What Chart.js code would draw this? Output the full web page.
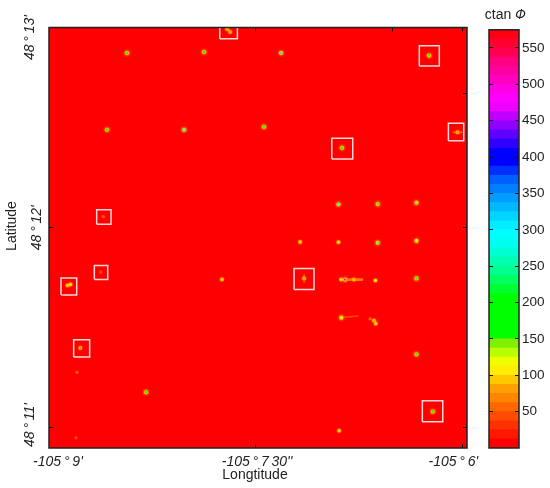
<!DOCTYPE html>
<html><head><meta charset="utf-8">
<script src="https://cdn.jsdelivr.net/npm/chart.js@4"></script>
<style>
html,body{margin:0;padding:0;background:#fff}
canvas{position:absolute;top:0}
#map{left:0}
#bar{left:460px}
</style></head>
<body>
<canvas id="map" width="550" height="488"></canvas>
<canvas id="bar" width="90" height="488"></canvas>
<script>
// longitude / latitude are arc-minutes relative to -105 deg and 48 deg
const spotLon = [-8.434,-7.875,-7.316,-6.242,-7.708,-7.686,-8.579,-8.020,-7.440,-6.874,-6.036,-8.606,
  -6.900,-6.615,-6.334,-7.178,-6.900,-6.615,-6.334,-8.625,-8.866,-8.844,-7.745,-7.149,
  -6.881,-6.852,-6.787,-6.632,-6.334,-6.879,-6.671,-6.629,-6.641,
  -6.334,-6.215,-6.895,-8.773,-8.797,-8.296,-8.804];
const spotLat = [12.873,12.878,12.873,12.860,12.993,12.978,12.489,12.489,12.504,12.399,12.477,12.056,
  12.117,12.118,12.125,11.929,11.928,11.925,11.935,11.779,11.712,11.717,11.742,11.747,
  11.741,11.741,11.741,11.737,11.747,11.551,11.546,11.521,11.536,
  11.368,11.082,10.986,11.400,11.278,11.179,10.951];
const spotLevel = [175,170,310,175,85,70,170,265,200,170,60,40,
  265,175,140,95,105,255,130,28,100,100,100,70,
  110,480,80,115,190,130,45,100,85,
  205,175,95,70,40,195,35];

// elongated features
const streakTopLon = [-7.708,-7.686];
const streakTopLat = [12.993,12.978];
const streakRightLon = [-6.065,-6.007];
const streakRightLat = [12.477,12.477];
const streakLeftLon = [-8.866,-8.844];
const streakLeftLat = [11.712,11.717];
const streakMidLon = [-7.149,-7.149];
const streakMidLat = [11.765,11.728];
const streakUpperLon = [-6.881,-6.729];
const streakUpperLat = [11.741,11.741];
const streakLowerLon = [-6.860,-6.758];
const streakLowerLat = [11.553,11.559];
const streakHookLon = [-6.671,-6.641,-6.629];
const streakHookLat = [11.546,11.536,11.521];

const boxLonMin = [-7.761,-6.313,-6.102,-6.948,-8.654,-8.671,-8.913,-8.821,-7.222,-6.291];
const boxLonMax = [-7.633,-6.168,-5.991,-6.796,-8.550,-8.574,-8.799,-8.705,-7.077,-6.143];
const boxLatMin = [12.944,12.808,12.435,12.343,12.018,11.741,11.664,11.355,11.692,11.031];
const boxLatMax = [13.010,12.909,12.522,12.447,12.090,11.812,11.749,11.440,11.797,11.136];

const xMarkBottom = [-7.5,-6.0];
const xMarkTop = [-7.5,-6.511,-6.0];
const yMarkLeft = [11,12];
const yMarkRight = [11,12,12.668];
const xLabelAt = [-8.935,-7.49,-6.066];
const xLabelText = ["-105\u2009°\u20099'","-105\u2009°\u20097\u200930''","-105\u2009°\u20096'"];
const yLabelAt = [11.015,12.95];
const yLabelText = ["48\u2009°\u200911'","48\u2009°\u200913'"];
const yMidAt = [12];
const yMidText = ["48\u2009°\u200912'"];

const bandTop = [12.5,25,37.5,50,62.5,75,87.5,100,112.5,125,137.5,150,162.5,175,187.5,200,212.5,225,237.5,250,262.5,275,287.5,300,312.5,325,337.5,350,362.5,375,387.5,400,412.5,425,437.5,450,462.5,475,487.5,500,512.5,525,537.5,550,562.5,575];
const bandColor = ["#ff0000","#ff1800","#ff3000","#ff4c00","#ff6800","#ff8400","#ffa000","#ffc800","#ffee00","#f0ff00","#b8ff00","#80f000","#00ff00","#00ff00","#00ff00","#00ff00","#00ff00","#00ff30","#00ff60","#00ff90","#00ffb0","#00ffd0","#00fff0","#00ffff","#00eeff","#00d4ff","#00b8ff","#009cff","#0080ff","#0060ff","#0030ff","#0000ff","#0000ff","#3000ff","#6000ff","#9000ff","#c000ff","#f000ff","#ff00ff","#ff00e0","#ff00c0","#ff00a0","#ff0080","#ff0050","#ff0030","#ff0010"];
const barTicks = [50,100,150,200,250,300,350,400,450,500,550];

const colorOf = v => bandColor[Math.max(0,bandTop.findIndex(t=>t>=v))];
const spots = spotLon.map((x,i)=>({x,y:spotLat[i],v:spotLevel[i]}));
const fixTicks = arr => s => { s.ticks = arr.map(value=>({value})); };
const lookup = (at,text) => v => text[at.indexOf(v)];
const INK = '#222';
const TICKFONT = {family:'"Liberation Sans"',size:14,style:'italic'};

const redField = { id:'redField', beforeDraw(c){ const a=c.chartArea,g=c.ctx; g.save(); g.fillStyle='#ff0000'; g.fillRect(a.left,a.top,a.width,a.height); g.restore(); } };
const frame = { id:'frame', afterDraw(c){ const a=c.chartArea,g=c.ctx; g.save(); g.strokeStyle=INK; g.lineWidth=1.5; g.strokeRect(a.left,a.top,a.width,a.height); g.restore(); } };
// axis titles sit off-centre in the reference
const titleShift = { id:'titleShift', afterLayout(c){ c.scales.yLab.bottom = 424.5; c.scales.xLab.right = 461; } };

const markAxis = (position,axis,marks,weight) => ({
  type:'linear',position,axis,weight:weight||0,
  min:axis==='x'?-9:10.9,max:axis==='x'?-5.967:13,
  border:{display:false},
  grid:{drawOnChartArea:false,drawTicks:true,tickLength:-4,tickWidth:1,tickColor:'#000',z:2},
  ticks:{display:false},
  afterBuildTicks:fixTicks(marks),
  afterFit(s){ if(axis==='x') s.height=0; else s.width=0; }
});
const labelAxis = (position,axis,at,text,size,weight,padding,title) => ({
  type:'linear',position,axis,weight,
  min:axis==='x'?-9:10.9,max:axis==='x'?-5.967:13,
  border:{display:false},
  grid:{display:false},
  title:title||{display:false},
  ticks:Object.assign({autoSkip:false,font:TICKFONT,color:INK,padding,callback:lookup(at,text)},
    axis==='y'?{minRotation:90,maxRotation:90,crossAlign:'center'}:{maxRotation:0,minRotation:0}),
  afterBuildTicks:fixTicks(at),
  afterFit(s){
    if(axis==='x') s.height=size; else s.width=size;
    s._computeLabelArea = () => undefined;
  }
});

const boxSets = boxLonMin.map((x0,i)=>({
  type:'line',order:0,
  data:[{x:x0,y:boxLatMin[i]},{x:boxLonMax[i],y:boxLatMin[i]},{x:boxLonMax[i],y:boxLatMax[i]},{x:x0,y:boxLatMax[i]},{x:x0,y:boxLatMin[i]}],
  borderColor:'rgba(255,255,255,0.85)',borderWidth:1.5,pointRadius:0,tension:0,fill:false
}));
const layer = (order,color,radius) => ({
  type:'scatter',order,data:spots,parsing:false,
  pointBackgroundColor:color,pointBorderWidth:0,
  pointRadius:radius
});
const streak = (lon,lat,color,width) => ({
  type:'line',order:5,data:lon.map((x,i)=>({x,y:lat[i]})),parsing:false,
  borderColor:color,borderWidth:width,borderCapStyle:'round',pointRadius:0,tension:0,fill:false
});

new Chart(document.getElementById('map'),{
  type:'scatter',
  data:{datasets:[
    ...boxSets,
    layer(1,c=>colorOf(c.raw.v),c=>c.raw.v<60?0.7:c.raw.v<120?1.0:1.2),
    layer(2,c=>c.raw.v<60?'#ff6800':'#ffdc00',c=>c.raw.v<60?1.1:c.raw.v<120?1.7:1.9),
    layer(3,'rgba(255,120,0,0.65)',c=>c.raw.v<60?1.5:c.raw.v<120?2.3:2.8),
    layer(4,'rgba(255,60,0,0.4)',c=>c.raw.v<60?2:c.raw.v<120?3:4),
    streak(streakTopLon,streakTopLat,'rgba(255,130,0,0.8)',1.5),
    streak(streakRightLon,streakRightLat,'rgba(255,110,0,0.85)',2),
    streak(streakLeftLon,streakLeftLat,'rgba(255,190,0,0.95)',2.5),
    streak(streakMidLon,streakMidLat,'rgba(255,110,0,0.85)',1.6),
    streak(streakUpperLon,streakUpperLat,'rgba(255,150,0,0.85)',2.6),
    streak(streakLowerLon,streakLowerLat,'rgba(255,110,0,0.7)',1.6),
    streak(streakHookLon,streakHookLat,'rgba(255,120,0,0.8)',1.8)
  ]},
  options:{
    responsive:false,animation:false,
    layout:{autoPadding:false,padding:0},
    plugins:{legend:{display:false},tooltip:{enabled:false}},
    scales:{
      x:markAxis('bottom','x',xMarkBottom,0),
      xLab:labelAxis('bottom','x',xLabelAt,xLabelText,40,1,-2,
        {display:true,text:'Longtitude',color:INK,font:{family:'"Liberation Sans"',size:14},padding:{top:1,bottom:4}}),
      xTop:Object.assign(markAxis('top','x',xMarkTop,0),{afterFit(s){s.height=27.5;}}),
      y:markAxis('left','y',yMarkLeft,0),
      yMid:labelAxis('left','y',yMidAt,yMidText,0,0,-19),
      yLab:labelAxis('left','y',yLabelAt,yLabelText,49,1,-12,
        {display:true,text:'Latitude',color:INK,font:{family:'"Liberation Sans"',size:14},padding:{top:4,bottom:0}}),
      yRight:Object.assign(markAxis('right','y',yMarkRight,0),{afterFit(s){s.width=83;}})
    }
  },
  plugins:[redField,frame,titleShift]
});

new Chart(document.getElementById('bar'),{
  type:'bar',
  data:{labels:['ctan'],datasets:bandTop.map((t,i)=>({
    data:[[0,t]],backgroundColor:bandColor[i],borderWidth:0,order:i
  }))},
  options:{
    responsive:false,animation:false,
    layout:{autoPadding:false,padding:{left:0,right:0,top:0,bottom:40}},
    datasets:{bar:{grouped:false,barPercentage:1,categoryPercentage:1}},
    plugins:{
      legend:{display:false},tooltip:{enabled:false},
      title:{display:true,text:'ctan \u{1D6F7}',color:INK,font:{family:'"Liberation Sans"',size:14,weight:'normal'},padding:{top:7,bottom:6},fullSize:true}
    },
    scales:{
      x:{display:false},
      y:{type:'linear',position:'right',min:0,max:575,
        border:{display:false},
        grid:{drawOnChartArea:false,drawTicks:true,tickLength:-4,tickColor:'#111',z:2},
        ticks:{autoSkip:false,font:{family:'"Liberation Sans"',size:13.5},color:INK,padding:7},
        afterBuildTicks:fixTicks(barTicks),
        afterFit(s){s.width=31;}
      },
      yIn:{type:'linear',position:'left',min:0,max:575,
        border:{display:false},
        grid:{drawOnChartArea:false,drawTicks:true,tickLength:-4,tickColor:'#111',z:2},
        ticks:{display:false},
        afterBuildTicks:fixTicks(barTicks),
        afterFit(s){s.width=29;}
      }
    }
  },
  plugins:[frame]
});
</script>
</body></html>
